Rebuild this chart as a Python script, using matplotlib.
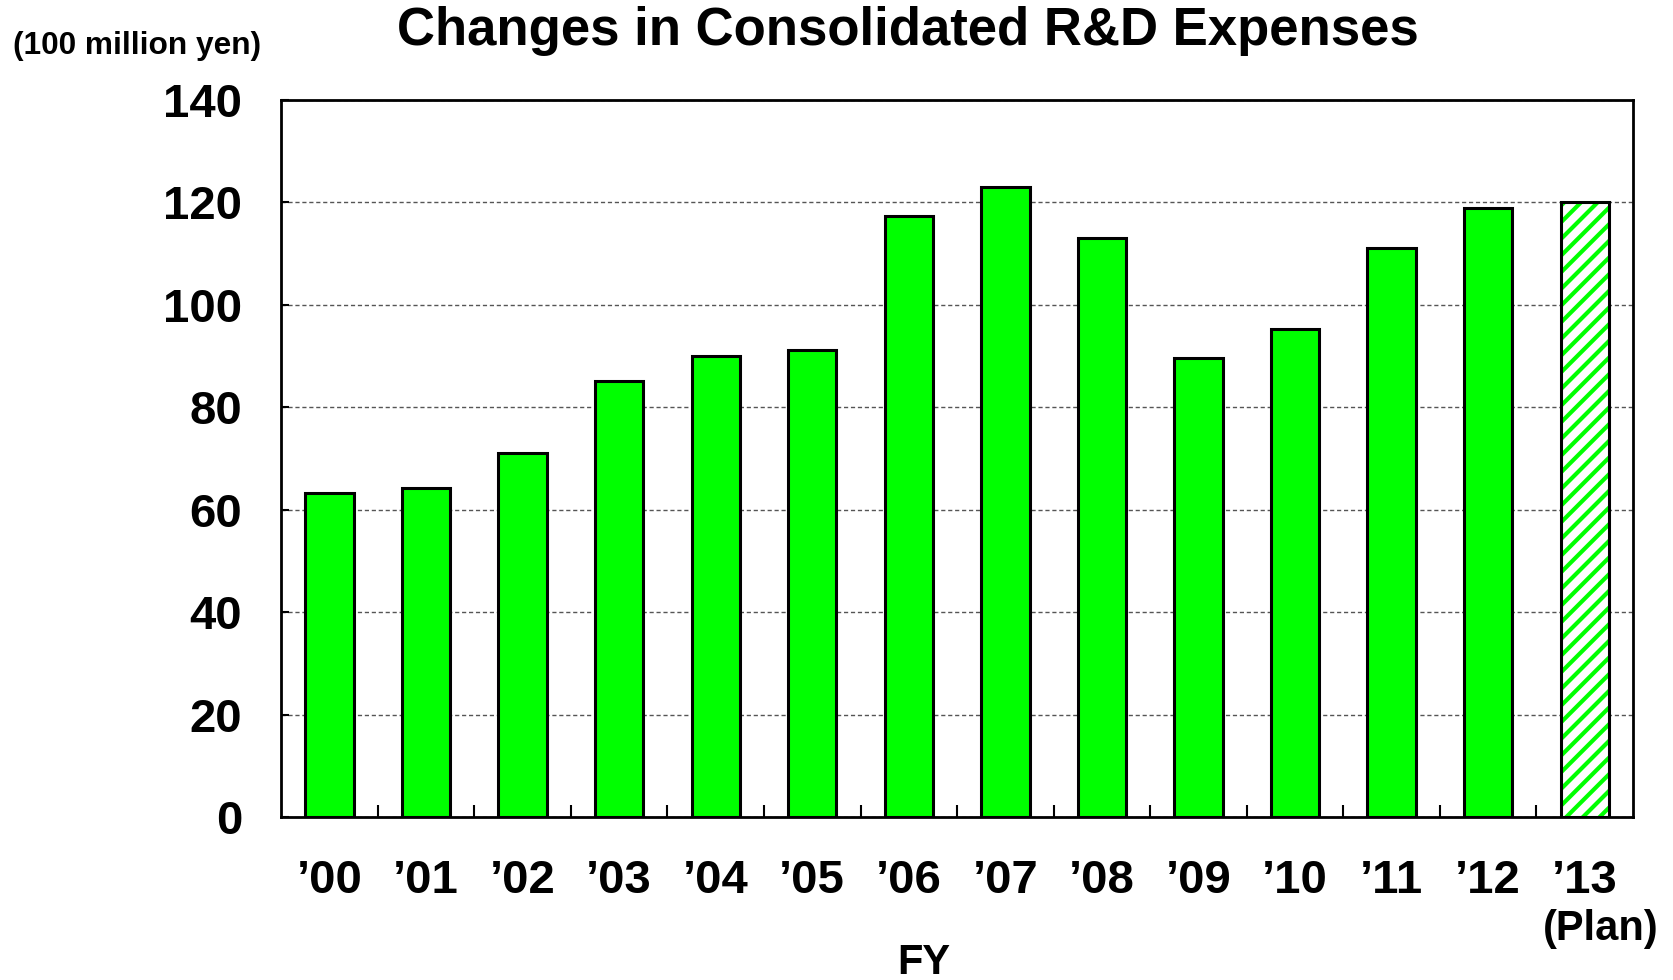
import matplotlib
matplotlib.use("Agg")
import matplotlib.pyplot as plt
import numpy as np

years = ["\u201900", "\u201901", "\u201902", "\u201903", "\u201904", "\u201905", "\u201906",
         "\u201907", "\u201908", "\u201909", "\u201910", "\u201911", "\u201912", "\u201913"]
values = [63.2, 64.3, 71.1, 85.1, 90.1, 91.2, 117.3, 123.1, 113.1, 89.7, 95.3, 111.0, 118.9, 120.0]
plan_flags = [False] * 13 + [True]
yticks = [0, 20, 40, 60, 80, 100, 120, 140]

plt.rcParams['font.family'] = ['Liberation Sans', 'DejaVu Sans']
plt.rcParams['hatch.linewidth'] = 3.0

fig = plt.figure(figsize=(16.74, 9.80), dpi=100)
ax = fig.add_axes([0.168, 0.1663, 0.8075, 0.7317])

x = np.arange(len(years))
actual_x = [xi for xi, p in zip(x, plan_flags) if not p]
actual_v = [v for v, p in zip(values, plan_flags) if not p]
plan_x = [xi for xi, p in zip(x, plan_flags) if p]
plan_v = [v for v, p in zip(values, plan_flags) if p]

ax.bar(actual_x, actual_v, width=0.5, color='#00ff00', edgecolor='black', linewidth=2.2, zorder=3)
ax.bar(plan_x, plan_v, width=0.5, color='white', edgecolor='#00ff00', hatch='//', linewidth=0, zorder=3)
ax.bar(plan_x, plan_v, width=0.5, fill=False, edgecolor='black', linewidth=2.2, zorder=4)

ax.set_xlim(-0.5, len(years) - 0.5)
ax.set_ylim(0, 140)
ax.set_yticks(yticks)
ax.set_yticklabels([str(t) for t in yticks], fontsize=34, fontweight='bold')
ax.set_xticks(x)
ax.set_xticklabels(years, fontsize=34, fontweight='bold')
ax.set_xticks(np.arange(0.5, len(years) - 0.5, 1.0), minor=True)
ax.tick_params(axis='x', which='major', length=0, pad=30)
ax.tick_params(axis='x', which='minor', direction='in', length=9, width=1.5)
ax.tick_params(axis='y', which='major', direction='in', length=6, width=1.5, pad=28)

ax.yaxis.grid(True, linestyle=(0, (3, 2)), color='#555555', linewidth=1.0, zorder=0)
ax.set_axisbelow(True)
for s in ax.spines.values():
    s.set_linewidth(2)

fig.text(0.5425, 0.968, "Changes in Consolidated R&D Expenses", ha='center', va='center',
         fontsize=38, fontweight='bold')
fig.text(0.0075, 0.953, "(100 million yen)", ha='left', va='center', fontsize=22.8, fontweight='bold')
fig.text(0.5517, 0.017, "FY", ha='center', va='center', fontsize=30, fontweight='bold')
fig.text(0.9565, 0.052, "(Plan)", ha='center', va='center', fontsize=30, fontweight='bold')

fig.savefig("out.png", dpi=100)
